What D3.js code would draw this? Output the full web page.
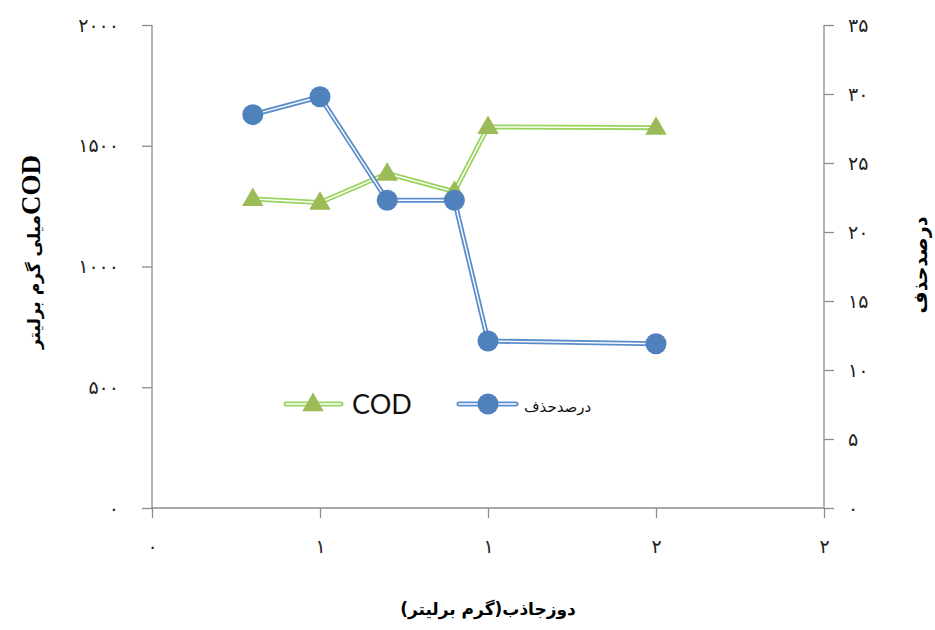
<!DOCTYPE html>
<html>
<head>
<meta charset="UTF-8">
<script src="https://d3js.org/d3.v7.min.js"></script>
<style>
  body { margin: 0; background: #fff; }
  .tick-fa { font-family: 'DejaVu Sans', sans-serif; font-size: 19px; letter-spacing: 3px; fill: #222; }
  .title-b { font-weight: bold; fill: #000; }
</style>
</head>
<body>
<svg id="chart" width="935" height="630"></svg>
<script>
  // data
  const doseX = [0.3, 0.5, 0.7, 0.9, 1.0, 1.5];
  const codValues = [1280, 1265, 1385, 1310, 1578, 1575];
  const removalValues = [28.5, 29.8, 22.3, 22.3, 12.1, 11.9];

  const xTicks = [0, 0.5, 1, 1.5, 2];
  const xTickLabels = ['۰', '۱', '۱', '۲', '۲'];
  const leftTicks = [0, 500, 1000, 1500, 2000];
  const leftTickLabels = ['۰', '۵۰۰', '۱۰۰۰', '۱۵۰۰', '۲۰۰۰'];
  const rightTicks = [0, 5, 10, 15, 20, 25, 30, 35];
  const rightTickLabels = ['۰', '۵', '۱۰', '۱۵', '۲۰', '۲۵', '۳۰', '۳۵'];

  const svg = d3.select('#chart');
  const margin = { top: 25, right: 111, bottom: 122, left: 152 };
  const W = 935, H = 630;

  const x = d3.scaleLinear().domain([0, 2]).range([margin.left, W - margin.right]);
  const yL = d3.scaleLinear().domain([0, 2000]).range([H - margin.bottom, margin.top]);
  const yR = d3.scaleLinear().domain([0, 35]).range([H - margin.bottom, margin.top]);

  const axisColor = '#8c8c8c';

  // left axis
  const gL = svg.append('g').attr('transform', `translate(${margin.left},0)`)
    .call(d3.axisLeft(yL).tickValues(leftTicks).tickSize(10).tickFormat((d, i) => leftTickLabels[i]));
  // right axis
  const gR = svg.append('g').attr('transform', `translate(${W - margin.right},0)`)
    .call(d3.axisRight(yR).tickValues(rightTicks).tickSize(10).tickFormat((d, i) => rightTickLabels[i]));
  // bottom axis
  const gB = svg.append('g').attr('transform', `translate(0,${H - margin.bottom})`)
    .call(d3.axisBottom(x).tickValues(xTicks).tickSize(10).tickFormat((d, i) => xTickLabels[i]));

  [gL, gR, gB].forEach(g => {
    g.select('.domain').attr('stroke', axisColor).attr('stroke-width', 1.3);
    g.selectAll('.tick line').attr('stroke', axisColor).attr('stroke-width', 1.3);
    g.selectAll('.tick text').attr('class', 'tick-fa').attr('font-family', null).attr('font-size', null);
  });
  gL.select('.domain').attr('d', `M0,${margin.top}H0V${H - margin.bottom}`);
  gR.select('.domain').attr('d', `M0,${margin.top}H0V${H - margin.bottom}`);
  gB.select('.domain').attr('d', `M${margin.left},0H${W - margin.right}`);
  gL.selectAll('.tick text').attr('x', -33);
  gR.selectAll('.tick text').attr('x', 24);
  gB.selectAll('.tick text').attr('y', 32);

  // double-stroke line helper
  function drawSeries(values, yScale, outer, markerFill, marker) {
    const pts = doseX.map((d, i) => [x(d), yScale(values[i])]);
    const line = d3.line();
    const g = svg.append('g');
    g.append('path').attr('d', line(pts)).attr('fill', 'none')
      .attr('stroke', outer).attr('stroke-width', 5).attr('stroke-linejoin', 'round');
    g.append('path').attr('d', line(pts)).attr('fill', 'none')
      .attr('stroke', '#fff').attr('stroke-width', 1.4).attr('stroke-linejoin', 'round');
    if (marker === 'circle') {
      g.selectAll('circle').data(pts).join('circle')
        .attr('cx', d => d[0]).attr('cy', d => d[1]).attr('r', 10.5)
        .attr('fill', markerFill);
    } else {
      const tri = d3.symbol().type(d3.symbolTriangle).size(200);
      g.selectAll('path.m').data(pts).join('path').attr('class', 'm')
        .attr('d', tri).attr('transform', d => `translate(${d[0]},${d[1] + 1})`)
        .attr('fill', markerFill);
    }
  }

  drawSeries(codValues, yL, '#9ad45e', '#9bbb59', 'triangle');
  drawSeries(removalValues, yR, '#5b8dcc', '#4f81bd', 'circle');

  // legend
  const leg = svg.append('g');
  function legendLine(x0, x1, yy, outer) {
    leg.append('line').attr('x1', x0).attr('x2', x1).attr('y1', yy).attr('y2', yy)
      .attr('stroke', outer).attr('stroke-width', 5).attr('stroke-linecap', 'round');
    leg.append('line').attr('x1', x0).attr('x2', x1).attr('y1', yy).attr('y2', yy)
      .attr('stroke', '#fff').attr('stroke-width', 1.4).attr('stroke-linecap', 'round');
  }
  legendLine(286, 341, 404, '#9ad45e');
  leg.append('path').attr('d', d3.symbol().type(d3.symbolTriangle).size(200))
    .attr('transform', 'translate(313,405)').attr('fill', '#9bbb59');
  leg.append('text').attr('x', 352).attr('y', 414).attr('font-family', 'Lato, sans-serif')
    .attr('font-size', 27).attr('fill', '#111').text('COD');
  legendLine(459, 516, 404, '#5b8dcc');
  leg.append('circle').attr('cx', 488).attr('cy', 404).attr('r', 10.5).attr('fill', '#4f81bd');
  leg.append('text').attr('x', 524).attr('y', 412).attr('font-family', 'DejaVu Sans, sans-serif')
    .attr('font-size', 15).attr('fill', '#111').text('درصدحذف');

  // axis titles
  const lt = svg.append('text').attr('class', 'title-b')
    .attr('transform', 'translate(40,252) rotate(-90)')
    .attr('text-anchor', 'middle').attr('direction', 'rtl');
  lt.append('tspan').attr('font-family', 'Liberation Serif, serif').attr('font-size', 27).text('COD');
  lt.append('tspan').attr('font-family', 'DejaVu Sans, sans-serif').attr('font-size', 17).text('میلی گرم برلیتر');

  svg.append('text').attr('class', 'title-b')
    .attr('transform', 'translate(927,265) rotate(-90)')
    .attr('text-anchor', 'middle').attr('direction', 'rtl')
    .attr('font-family', 'DejaVu Sans, sans-serif').attr('font-size', 19)
    .text('درصدحذف');

  svg.append('text').attr('class', 'title-b')
    .attr('x', 488).attr('y', 615)
    .attr('text-anchor', 'middle').attr('direction', 'rtl')
    .attr('font-family', 'DejaVu Sans, sans-serif').attr('font-size', 17)
    .text('دوزجاذب(گرم برلیتر)');
</script>
</body>
</html>
